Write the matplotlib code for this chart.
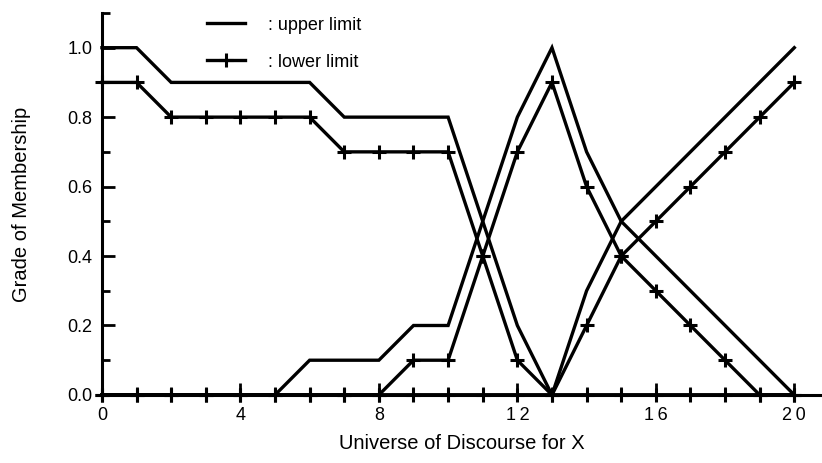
import numpy as np
import matplotlib.pyplot as plt
from matplotlib.ticker import MultipleLocator

plt.rcParams['font.family'] = ['Liberation Sans', 'DejaVu Sans']

x = np.arange(0, 21)

# fuzzy set A (decreasing), B (triangular), C (increasing): upper / lower limits
a_upper = [1.0, 1.0, 0.9, 0.9, 0.9, 0.9, 0.9, 0.8, 0.8, 0.8, 0.8, 0.5, 0.2, 0, 0, 0, 0, 0, 0, 0, 0]
a_lower = [0.9, 0.9, 0.8, 0.8, 0.8, 0.8, 0.8, 0.7, 0.7, 0.7, 0.7, 0.4, 0.1, 0, 0, 0, 0, 0, 0, 0, 0]
b_upper = [0, 0, 0, 0, 0, 0, 0.1, 0.1, 0.1, 0.2, 0.2, 0.5, 0.8, 1.0, 0.7, 0.5, 0.4, 0.3, 0.2, 0.1, 0]
b_lower = [0, 0, 0, 0, 0, 0, 0, 0, 0, 0.1, 0.1, 0.4, 0.7, 0.9, 0.6, 0.4, 0.3, 0.2, 0.1, 0, 0]
c_upper = [0, 0, 0, 0, 0, 0, 0, 0, 0, 0, 0, 0, 0, 0, 0.3, 0.5, 0.6, 0.7, 0.8, 0.9, 1.0]
c_lower = [0, 0, 0, 0, 0, 0, 0, 0, 0, 0, 0, 0, 0, 0, 0.2, 0.4, 0.5, 0.6, 0.7, 0.8, 0.9]

xticks = [0, 4, 8, 12, 16, 20]
xticklabels = ['0', '4', '8', '1\u20092', '1\u20096', '2\u20090']
yticks = [0, 0.2, 0.4, 0.6, 0.8, 1.0]
yticklabels = ['0.0', '0.2', '0.4', '0.6', '0.8', '1.0']

fig = plt.figure(figsize=(8.22, 4.63), dpi=100)
ax = fig.add_axes([0.124, 0.147, 0.876, 0.825])

lw = 2.4
up_style = dict(color='black', lw=lw, solid_joinstyle='miter')
lo_style = dict(color='black', lw=lw, marker='+', ms=10, mew=2.2, solid_joinstyle='miter')

h_up, = ax.plot(x, a_upper, **up_style)
h_lo, = ax.plot(x, a_lower, **lo_style)
ax.plot(x, b_upper, **up_style)
ax.plot(x, b_lower, **lo_style)
ax.plot(x, c_upper, **up_style)
ax.plot(x, c_lower, **lo_style)

ax.set_xlim(0, 20.8)
ax.set_ylim(0, 1.1)
ax.spines['top'].set_visible(False)
ax.spines['right'].set_visible(False)
ax.spines['left'].set_linewidth(2.2)
ax.spines['bottom'].set_linewidth(2.2)

ax.xaxis.set_minor_locator(MultipleLocator(1))
ax.yaxis.set_minor_locator(MultipleLocator(0.1))
ax.set_xticks(xticks)
ax.set_xticklabels(xticklabels)
ax.set_yticks(yticks)
ax.set_yticklabels(yticklabels)
ax.tick_params(which='major', direction='in', length=9, width=2, labelsize=13)
ax.tick_params(which='minor', direction='in', length=6, width=2)
ax.tick_params(axis='x', which='major', pad=9)
ax.tick_params(axis='y', which='major', pad=7)

for l in ax.get_lines():
    l.set_clip_on(False)

ax.set_xlabel('Universe of Discourse for X', fontsize=14.5, labelpad=7)
ax.set_ylabel('Grade of Membership', fontsize=14.5, labelpad=26)

ax.legend([h_up, h_lo], [': upper limit', ': lower limit'],
          loc='upper left', bbox_to_anchor=(0.146, 0.99), frameon=False,
          fontsize=13, handlelength=2.1, handletextpad=1.3, labelspacing=1.1,
          borderaxespad=0, borderpad=0)

fig.savefig('out.png', dpi=100)
